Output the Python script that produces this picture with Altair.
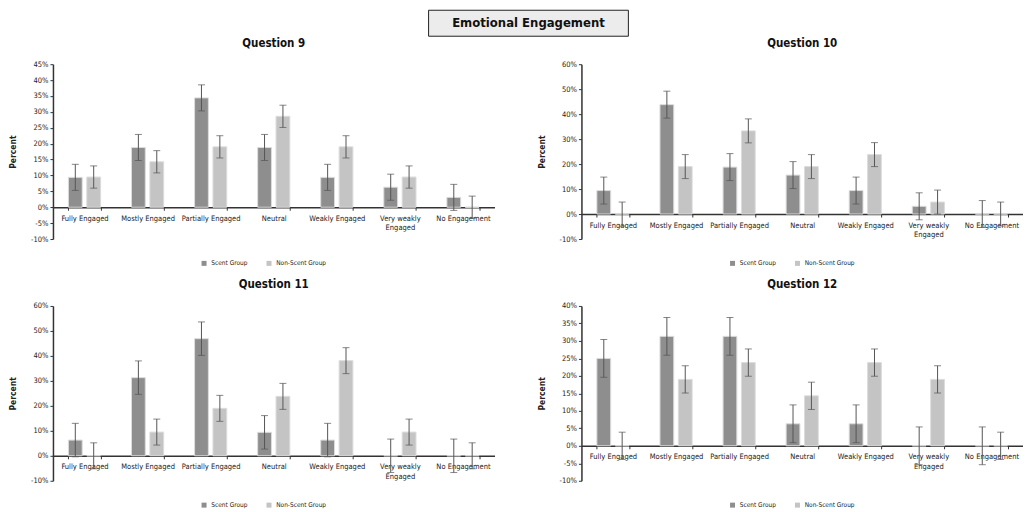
import altair as alt
import pandas as pd

categories = ["Fully Engaged", "Mostly Engaged", "Partially Engaged", "Neutral",
              "Weakly Engaged", "Very weakly Engaged", "No Engagement"]
groups = ["Scent Group", "Non-Scent Group"]

q9_scent = [9.4, 18.8, 34.4, 18.8, 9.4, 6.3, 3.1]
q9_scent_err = [4.1, 4.1, 4.1, 4.1, 4.1, 4.1, 4.1]
q9_non = [9.5, 14.3, 19.0, 28.6, 19.0, 9.5, 0.0]
q9_non_err = [3.5, 3.5, 3.5, 3.5, 3.5, 3.5, 3.5]
q9_ticks = [-10, -5, 0, 5, 10, 15, 20, 25, 30, 35, 40, 45]

q10_scent = [9.4, 43.8, 18.8, 15.6, 9.4, 3.1, 0.0]
q10_scent_err = [5.4, 5.4, 5.4, 5.4, 5.4, 5.4, 5.4]
q10_non = [0.0, 19.0, 33.3, 19.0, 23.8, 4.8, 0.0]
q10_non_err = [4.8, 4.8, 4.8, 4.8, 4.8, 4.8, 4.8]
q10_ticks = [-10, 0, 10, 20, 30, 40, 50, 60]

q11_scent = [6.3, 31.3, 46.9, 9.4, 6.3, 0.0, 0.0]
q11_scent_err = [6.7, 6.7, 6.7, 6.7, 6.7, 6.7, 6.7]
q11_non = [0.0, 9.5, 19.0, 23.8, 38.1, 9.5, 0.0]
q11_non_err = [5.2, 5.2, 5.2, 5.2, 5.2, 5.2, 5.2]
q11_ticks = [-10, 0, 10, 20, 30, 40, 50, 60]

q12_scent = [25.0, 31.3, 31.3, 6.3, 6.3, 0.0, 0.0]
q12_scent_err = [5.4, 5.4, 5.4, 5.4, 5.4, 5.4, 5.4]
q12_non = [0.0, 19.0, 23.8, 14.3, 23.8, 19.0, 0.0]
q12_non_err = [3.9, 3.9, 3.9, 3.9, 3.9, 3.9, 3.9]
q12_ticks = [-10, -5, 0, 5, 10, 15, 20, 25, 30, 35, 40]

FONT = "Liberation Sans Narrow, DejaVu Sans Condensed, Roboto Condensed, sans-serif"
W = 442
H = 175


def panel(title, scent, scent_err, non, non_err, ticks):
    rows = []
    for c, v, e in zip(categories, scent, scent_err):
        rows.append({"category": c, "group": groups[0], "value": v, "lo": v - e, "hi": v + e})
    for c, v, e in zip(categories, non, non_err):
        rows.append({"category": c, "group": groups[1], "value": v, "lo": v - e, "hi": v + e})
    df = pd.DataFrame(rows)
    ymin, ymax = ticks[0], ticks[-1]
    zero_off = H * (0 - ymin) / (ymax - ymin)

    x_axis = alt.Axis(title=None, labelAngle=0, tickBand="extent", offset=-zero_off,
                      domainColor="#333333", domainWidth=1.5, tickColor="#333333",
                      tickSize=3, labelFont=FONT, labelFontSize=7.5, labelColor="#222222",
                      labelPadding=4, labelOverlap=False,
                      labelExpr="datum.label == 'Very weakly Engaged' ? ['Very weakly', 'Engaged'] : datum.label")
    y_axis = alt.Axis(values=ticks, labelExpr="datum.value + '%'", title="Percent",
                      grid=False, tickSize=3, domainColor="#333333", domainWidth=1.5,
                      tickColor="#333333", labelFont=FONT, labelFontSize=7.5,
                      labelColor="#222222", labelOverlap=False, labelFlush=False,
                      titleFont=FONT, titleFontSize=8.5,
                      titleFontWeight="bold", titleColor="#222222", titlePadding=13)
    x_scale = alt.Scale(paddingInner=0.49, paddingOuter=0.245)
    y_scale = alt.Scale(domain=[ymin, ymax], nice=False, zero=False)

    def X():
        return alt.X("category:N", sort=categories, scale=x_scale, axis=x_axis)

    def Y(field):
        return alt.Y(field, scale=y_scale, axis=y_axis)

    xo = alt.XOffset("group:N", sort=groups, scale=alt.Scale(paddingInner=0.25, paddingOuter=0))
    bars = alt.Chart(df).mark_bar(stroke="#dcdcdc", strokeWidth=1).encode(
        x=X(), xOffset=xo, y=Y("value:Q"), y2=alt.Y2(datum=0),
        color=alt.Color("group:N", scale=alt.Scale(domain=groups, range=["#8e8e8e", "#c4c4c4"]),
                        legend=alt.Legend(orient="none", legendX=148, legendY=H + 21,
                                          direction="horizontal", title=None, symbolType="square",
                                          symbolSize=25, symbolStrokeWidth=0, labelFont=FONT,
                                          labelFontSize=6.5, labelColor="#222222", columnPadding=18)),
    )
    rules = alt.Chart(df).mark_rule(color="#555555", strokeWidth=1).encode(
        x=X(), xOffset=xo, y=Y("lo:Q"), y2="hi:Q")
    cap_hi = alt.Chart(df).mark_tick(color="#555555", thickness=1, size=7).encode(
        x=X(), xOffset=xo, y=Y("hi:Q"))
    cap_lo = alt.Chart(df).mark_tick(color="#555555", thickness=1, size=7).encode(
        x=X(), xOffset=xo, y=Y("lo:Q"))
    return alt.layer(bars, rules, cap_hi, cap_lo).properties(
        width=W, height=H,
        title=alt.Title(title, font=FONT, fontSize=11.5, fontWeight="bold", color="#111111",
                        anchor="middle", offset=11))


hdr_df = pd.DataFrame({"k": [0]})
box = alt.Chart(hdr_df).mark_rect(fill="#ececec", stroke="#222222", strokeWidth=1).encode(
    x=alt.value(376), x2=alt.value(576), y=alt.value(2), y2=alt.value(28))
txt = alt.Chart(hdr_df).mark_text(font=FONT, fontSize=13, fontWeight="bold", color="#111111").encode(
    x=alt.value(476), y=alt.value(15), text=alt.value("Emotional Engagement"))
header = alt.layer(box, txt).properties(width=600, height=28)

row1 = alt.hconcat(
    panel("Question 9", q9_scent, q9_scent_err, q9_non, q9_non_err, q9_ticks),
    panel("Question 10", q10_scent, q10_scent_err, q10_non, q10_non_err, q10_ticks),
    spacing=42).resolve_scale(color="independent").resolve_legend(color="independent")
row2 = alt.hconcat(
    panel("Question 11", q11_scent, q11_scent_err, q11_non, q11_non_err, q11_ticks),
    panel("Question 12", q12_scent, q12_scent_err, q12_non, q12_non_err, q12_ticks),
    spacing=42).resolve_scale(color="independent").resolve_legend(color="independent")

rows = alt.vconcat(row1, row2, spacing=12).resolve_scale(
    color="independent").resolve_legend(color="independent")

chart = alt.vconcat(header, rows, spacing=0).resolve_scale(
    color="independent").resolve_legend(color="independent").properties(
    padding=0, background="white").configure_view(strokeWidth=0, stroke=None)

chart.save("out.html", embed_options={"renderer": "svg", "actions": False})
